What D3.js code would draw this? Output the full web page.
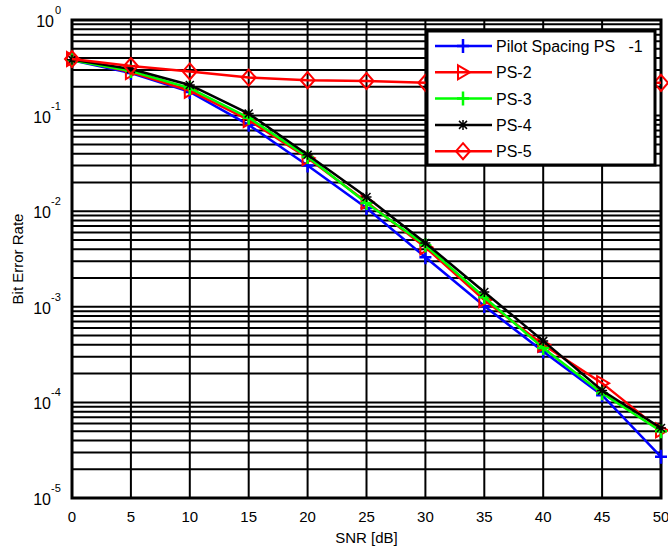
<!DOCTYPE html>
<html>
<head>
<meta charset="utf-8">
<script src="https://cdn.jsdelivr.net/npm/d3@7"></script>
<style>
  body { margin: 0; background: #fff; }
  text { font-family: "Liberation Sans", Arial, sans-serif; }
</style>
</head>
<body>
<div id="chart"></div>
<script>
// data
const snr = [0, 5, 10, 15, 20, 25, 30, 35, 40, 45, 50];
const ps1 = [0.38, 0.279, 0.177, 0.080, 0.030, 0.0108, 0.0033, 0.00102, 0.00034, 0.000119, 0.000027];
const ps2 = [0.39, 0.285, 0.182, 0.090, 0.036, 0.0125, 0.0042, 0.00118, 0.00040, 0.000159, 0.000051];
const ps3 = [0.38, 0.293, 0.194, 0.095, 0.037, 0.0122, 0.0044, 0.00126, 0.00037, 0.000125, 0.000050];
const ps4 = [0.385, 0.307, 0.209, 0.105, 0.039, 0.0141, 0.00465, 0.00143, 0.00044, 0.000133, 0.000054];
const ps5 = [0.39, 0.33, 0.29, 0.25, 0.235, 0.23, 0.22, 0.22, 0.22, 0.22, 0.22];
const seriesNames = ["Pilot Spacing PS   -1", "PS-2", "PS-3", "PS-4", "PS-5"];
const xTicks = [0, 5, 10, 15, 20, 25, 30, 35, 40, 45, 50];
const yExps = [0, -1, -2, -3, -4, -5];

const series = [
  { name: seriesNames[0], values: ps1, color: "#0000ff", marker: "plus" },
  { name: seriesNames[1], values: ps2, color: "#ff0000", marker: "tri" },
  { name: seriesNames[2], values: ps3, color: "#00ff00", marker: "plus" },
  { name: seriesNames[3], values: ps4, color: "#000000", marker: "star" },
  { name: seriesNames[4], values: ps5, color: "#ff0000", marker: "diamond" }
];

const W = 668, H = 552;
const margin = { top: 20, right: 7, bottom: 54, left: 72 };
const width = W - margin.left - margin.right;
const height = H - margin.top - margin.bottom;

const svg = d3.select("#chart").append("svg")
  .attr("width", W).attr("height", H);
const g = svg.append("g")
  .attr("transform", "translate(" + margin.left + "," + margin.top + ")");

const x = d3.scaleLinear().domain([0, 50]).range([0, width]);
const y = d3.scaleLog().domain([1e-5, 1]).range([height, 0]);

// horizontal grid: every 1..9 x 10^k
const hGrid = [];
for (let e = -5; e < 0; e++) {
  for (let m = 1; m <= 9; m++) hGrid.push(m * Math.pow(10, e));
}
g.selectAll("line.hg").data(hGrid).enter().append("line")
  .attr("class", "hg")
  .attr("x1", 0).attr("x2", width)
  .attr("y1", d => y(d)).attr("y2", d => y(d))
  .attr("stroke", "#000").attr("stroke-width", 2);

g.selectAll("line.vg").data(xTicks).enter().append("line")
  .attr("class", "vg")
  .attr("x1", d => x(d)).attr("x2", d => x(d))
  .attr("y1", 0).attr("y2", height)
  .attr("stroke", "#000").attr("stroke-width", 2);

// frame
g.append("rect").attr("x", 0).attr("y", 0)
  .attr("width", width).attr("height", height)
  .attr("fill", "none").attr("stroke", "#000").attr("stroke-width", 3);

// x tick labels
g.selectAll("text.xt").data(xTicks).enter().append("text")
  .attr("class", "xt")
  .attr("x", d => x(d)).attr("y", height + 24)
  .attr("text-anchor", "middle")
  .attr("font-size", 15)
  .text(d => d);

// y tick labels 10^e
const yt = g.selectAll("g.yt").data(yExps).enter().append("g")
  .attr("class", "yt")
  .attr("transform", d => "translate(-12," + (y(Math.pow(10, d)) + 7) + ")");
yt.append("text")
  .attr("text-anchor", "end")
  .attr("x", d => d === 0 ? -6 : -9)
  .attr("font-size", 16)
  .text("10");
yt.append("text")
  .attr("x", d => d === 0 ? -5 : -9)
  .attr("y", -13)
  .attr("font-size", 11)
  .text(d => d);

// axis titles
svg.append("text")
  .attr("x", margin.left + width / 2).attr("y", H - 9)
  .attr("text-anchor", "middle").attr("font-size", 15)
  .text("SNR [dB]");
svg.append("text")
  .attr("transform", "translate(23," + (margin.top + height / 2) + ") rotate(-90)")
  .attr("text-anchor", "middle").attr("font-size", 15)
  .text("Bit Error Rate");

const line = d3.line().x((d, i) => x(snr[i])).y(d => y(d));

function drawMarker(sel, type, color) {
  if (type === "plus") {
    sel.append("path").attr("d", "M-6,0H6M0,-7V7")
      .attr("stroke", color).attr("stroke-width", 2.5).attr("fill", "none");
  } else if (type === "tri") {
    sel.append("path").attr("d", "M-5,-7L7,0L-5,7Z")
      .attr("stroke", color).attr("stroke-width", 2).attr("fill", "none");
  } else if (type === "star") {
    sel.append("path").attr("d", "M-4,-4L4,4M-4,4L4,-4M-5,0H5M0,-5V5")
      .attr("stroke", color).attr("stroke-width", 1.5).attr("fill", "none");
  } else if (type === "diamond") {
    sel.append("path").attr("d", "M0,-8L7,0L0,8L-7,0Z")
      .attr("stroke", color).attr("stroke-width", 2).attr("fill", "none");
  }
}

const plotClip = g.append("g");
series.forEach(s => {
  plotClip.append("path").datum(s.values)
    .attr("d", line)
    .attr("fill", "none").attr("stroke", s.color).attr("stroke-width", 2.5);
  s.values.forEach((v, i) => {
    const m = plotClip.append("g")
      .attr("transform", "translate(" + x(snr[i]) + "," + y(v) + ")");
    drawMarker(m, s.marker, s.color);
  });
});

// legend
const lg = svg.append("g").attr("transform", "translate(427,31)");
lg.append("rect").attr("x", 0).attr("y", 0).attr("width", 228).attr("height", 134)
  .attr("fill", "#fff").attr("stroke", "#000").attr("stroke-width", 3);
series.forEach((s, i) => {
  const row = lg.append("g").attr("transform", "translate(0," + (15 + i * 26.3) + ")");
  row.append("line").attr("x1", 8).attr("x2", 65).attr("y1", 0).attr("y2", 0)
    .attr("stroke", s.color).attr("stroke-width", 2.5);
  const m = row.append("g").attr("transform", "translate(36,0)");
  drawMarker(m, s.marker, s.color);
  row.append("text").attr("x", 69).attr("y", 6)
    .attr("font-size", 16)
    .style("white-space", "pre")
    .text(s.name);
});
</script>
</body>
</html>
